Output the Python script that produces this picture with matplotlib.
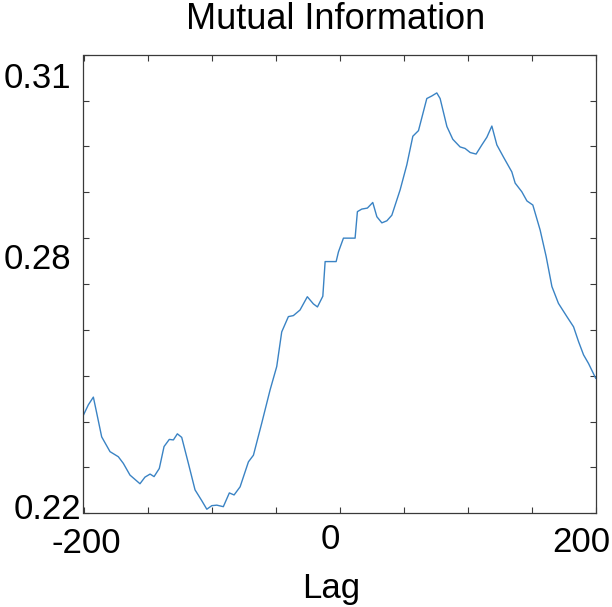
import matplotlib
matplotlib.use("Agg")
import matplotlib.pyplot as plt
import numpy as np

plt.rcParams['font.family'] = ['Liberation Sans', 'DejaVu Sans']

# Data (lag vs. mutual information)
lag = [-200.0, -196.2, -192.3, -189.7, -185.8, -179.3, -172.8, -168.9, -163.7, -155.9,
       -152.0, -148.0, -144.9, -140.8, -137.1, -133.0, -129.8, -126.7, -123.3, -118.1,
       -112.9, -107.7, -103.7, -99.8, -95.9, -90.8, -86.1, -82.4, -77.7, -71.2,
       -67.3, -60.8, -54.3, -49.1, -45.2, -40.0, -36.1, -30.9, -25.2, -20.5,
       -17.3, -13.1, -11.3, -2.7, -0.9, 3.0, 12.1, 13.9, 17.3, 21.7,
       25.9, 29.1, 33.0, 36.9, 40.8, 47.3, 52.5, 57.2, 61.6, 68.1,
       72.0, 75.9, 78.5, 83.8, 88.4, 94.1, 98.0, 102.0, 106.6, 111.1,
       115.0, 118.9, 122.8, 128.0, 134.5, 137.1, 142.3, 146.3, 150.9, 156.6,
       161.3, 165.8, 170.9, 177.5, 182.7, 186.6, 190.5, 194.4, 200.0]
mi = [0.2393, 0.2413, 0.2428, 0.2397, 0.2350, 0.2321, 0.2311, 0.2298, 0.2275, 0.2258,
      0.2271, 0.2277, 0.2272, 0.2288, 0.2331, 0.2345, 0.2344, 0.2356, 0.2349, 0.2298,
      0.2246, 0.2225, 0.2208, 0.2215, 0.2216, 0.2213, 0.2240, 0.2236, 0.2252, 0.2301,
      0.2314, 0.2377, 0.2442, 0.2488, 0.2556, 0.2586, 0.2588, 0.2599, 0.2625, 0.2611,
      0.2605, 0.2626, 0.2694, 0.2694, 0.2713, 0.2740, 0.2740, 0.2792, 0.2797, 0.2799,
      0.2810, 0.2782, 0.2770, 0.2774, 0.2785, 0.2835, 0.2884, 0.2940, 0.2951, 0.3014,
      0.3019, 0.3025, 0.3014, 0.2959, 0.2934, 0.2919, 0.2916, 0.2908, 0.2905, 0.2923,
      0.2938, 0.2960, 0.2923, 0.2899, 0.2870, 0.2848, 0.2831, 0.2813, 0.2805, 0.2756,
      0.2704, 0.2645, 0.2612, 0.2586, 0.2566, 0.2537, 0.2511, 0.2494, 0.2465]

x_tick_labels = ['-200', '0', '200']
y_tick_labels = ['0.31', '0.28', '0.22']
title = 'Mutual Information'
xlabel = 'Lag'

W, H = 612, 607
fig = plt.figure(figsize=(W / 100, H / 100), dpi=100)
ax = fig.add_axes([83.5 / W, (H - 513.3) / H, 512.2 / W, 458.6 / H])

ax.plot(lag, mi, color='#3a83c4', linewidth=1.0)
ax.set_xlim(-200, 200)
ax.set_ylim(0.22, 0.31)
ax.set_xticks(np.arange(-200, 201, 50))
ax.set_yticks(np.linspace(0.22, 0.31, 11))
ax.set_xticklabels([])
ax.set_yticklabels([])
ax.tick_params(direction='in', length=4, width=0.8, color='#3a3a3a',
               top=True, right=True)
for s in ax.spines.values():
    s.set_color('#3a3a3a')
    s.set_linewidth(0.9)

def ftext(px, py, s, size, ha='center'):
    fig.text(px / W, 1 - py / H, s, fontsize=size, ha=ha, va='baseline', color='black')

# free-placed labels as in the reference
ftext(335.8, 29.3, title, 26)
ftext(71.5, 88.3, y_tick_labels[0], 25, ha='right')
ftext(71.5, 269.3, y_tick_labels[1], 25, ha='right')
ftext(81.7, 519.3, y_tick_labels[2], 25, ha='right')
ftext(86, 553, x_tick_labels[0], 25)
ftext(330, 549, x_tick_labels[1], 25)
ftext(581, 551.5, x_tick_labels[2], 25)
ftext(331, 598, xlabel, 25)

fig.savefig('out.png', dpi=100)
